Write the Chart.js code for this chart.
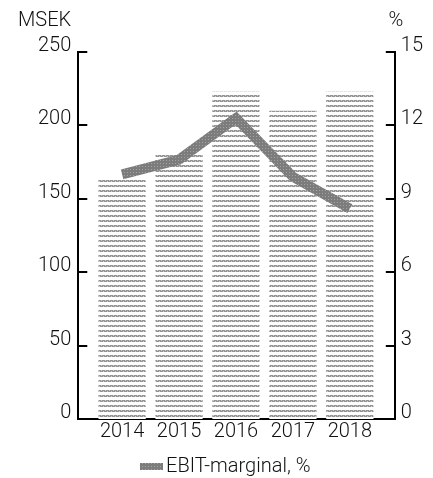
<!DOCTYPE html>
<html>
<head>
<meta charset="utf-8">
<script src="https://cdn.jsdelivr.net/npm/chart.js@4.4.0/dist/chart.umd.min.js"></script>
<style>
  html, body { margin: 0; padding: 0; background: #fff; }
  #wrap { width: 433px; height: 478px; }
</style>
</head>
<body>
<div id="wrap"><canvas id="ebitChart"></canvas></div>
<script>
const years = ['2014', '2015', '2016', '2017', '2018'];
const ebitMsek = [164, 181, 223, 210, 223];
const ebitMargin = [10.0, 10.6, 12.3, 9.9, 8.6];
const leftTicks = [0, 50, 100, 150, 200, 250];
const rightTicks = [0, 3, 6, 9, 12, 15];

const FONT = 'Roboto, "DejaVu Sans", sans-serif';
const FONT_SIZE = 20;

// striped fill like the printed original: thin dotted rows on white
function makeBarPattern() {
    const c = document.createElement('canvas');
    c.width = 4; c.height = 5;
    const g = c.getContext('2d');
    g.fillStyle = '#ffffff';
    g.fillRect(0, 0, 4, 5);
    g.fillStyle = '#949494';
    g.fillRect(0, 0, 4, 2);
    g.fillStyle = '#cdcdcd';
    g.fillRect(1, 0, 1, 1);
    g.fillRect(3, 1, 1, 1);
    return g.createPattern(c, 'repeat');
}

function makeLinePattern() {
    const c = document.createElement('canvas');
    c.width = 3; c.height = 3;
    const g = c.getContext('2d');
    g.fillStyle = '#7c7c7c';
    g.fillRect(0, 0, 3, 3);
    g.fillStyle = '#a4a4a4';
    g.fillRect(1, 1, 1, 1);
    return g.createPattern(c, 'repeat');
}

const barFill = makeBarPattern();
const lineFill = makeLinePattern();

// x positions are the category index, labels come from years
const barPoints = ebitMsek.map((v, i) => ({ x: i, y: v }));
const linePoints = ebitMargin.map((v, i) => ({ x: i, y: v }));

// short inward ticks on both y axes, unit labels, and the legend
const decorations = {
    id: 'decorations',
    afterDraw(chart) {
        const ctx = chart.ctx;
        const area = chart.chartArea;
        const yL = chart.scales.y;
        const yR = chart.scales.y1;
        ctx.save();
        ctx.strokeStyle = '#000';
        ctx.lineWidth = 2;
        ctx.beginPath();
        leftTicks.forEach(v => {
            const py = Math.round(yL.getPixelForValue(v));
            ctx.moveTo(area.left, py);
            ctx.lineTo(area.left + 9, py);
        });
        rightTicks.forEach(v => {
            const py = Math.round(yR.getPixelForValue(v));
            ctx.moveTo(area.right, py);
            ctx.lineTo(area.right - 9, py);
        });
        ctx.stroke();

        ctx.font = '300 ' + FONT_SIZE + 'px ' + FONT;
        ctx.fillStyle = '#111';
        ctx.textBaseline = 'middle';
        ctx.textAlign = 'left';
        ctx.fillText('MSEK', 18, 21);
        ctx.textAlign = 'center';
        ctx.fillText('%', area.right + 1, 21);

        // legend
        const lx = 140, ly = 466;
        ctx.fillStyle = lineFill;
        ctx.fillRect(lx, ly - 3, 23, 7);
        ctx.fillStyle = '#111';
        ctx.textAlign = 'left';
        ctx.fillText('EBIT-marginal, %', lx + 26, ly + 1);
        ctx.restore();
    }
};

const tickFont = { family: FONT, size: FONT_SIZE, weight: '300' };

const ctx = document.getElementById('ebitChart').getContext('2d');
new Chart(ctx, {
    data: {
        datasets: [
            {
                type: 'line',
                label: 'EBIT-marginal, %',
                data: linePoints,
                borderColor: lineFill,
                backgroundColor: lineFill,
                borderWidth: 10,
                tension: 0,
                pointRadius: 0,
                xAxisID: 'x',
                yAxisID: 'y1',
                order: 0
            },
            {
                type: 'bar',
                label: 'EBIT, MSEK',
                data: barPoints,
                backgroundColor: barFill,
                borderWidth: 0,
                categoryPercentage: 1,
                barPercentage: 0.83,
                xAxisID: 'x',
                yAxisID: 'y',
                order: 1
            }
        ]
    },
    options: {
        responsive: true,
        maintainAspectRatio: false,
        animation: false,
        layout: {
            padding: { top: 52, left: 31, right: 4, bottom: 33 }
        },
        plugins: {
            legend: { display: false },
            tooltip: { enabled: false }
        },
        scales: {
            x: {
                type: 'linear',
                offset: false,
                min: -0.77,
                max: 4.79,
                afterBuildTicks: axis => { axis.ticks = years.map((y, i) => ({ value: i })); },
                grid: { display: false, drawTicks: false },
                border: { color: '#000', width: 2 },
                ticks: {
                    color: '#111',
                    padding: 1,
                    callback: (value) => years[value],
                    font: tickFont
                }
            },
            y: {
                position: 'left',
                min: 0,
                max: 250,
                afterBuildTicks: axis => { axis.ticks = leftTicks.map(v => ({ value: v })); },
                grid: { display: false, drawTicks: false },
                border: { color: '#000', width: 2 },
                ticks: {
                    color: '#111',
                    padding: 7,
                    labelOffset: -6,
                    font: tickFont
                }
            },
            y1: {
                position: 'right',
                min: 0,
                max: 15,
                afterBuildTicks: axis => { axis.ticks = rightTicks.map(v => ({ value: v })); },
                grid: { display: false, drawTicks: false },
                border: { color: '#000', width: 2 },
                ticks: {
                    color: '#111',
                    padding: 6,
                    labelOffset: -6,
                    font: tickFont
                }
            }
        }
    },
    plugins: [decorations]
});
</script>
</body>
</html>
